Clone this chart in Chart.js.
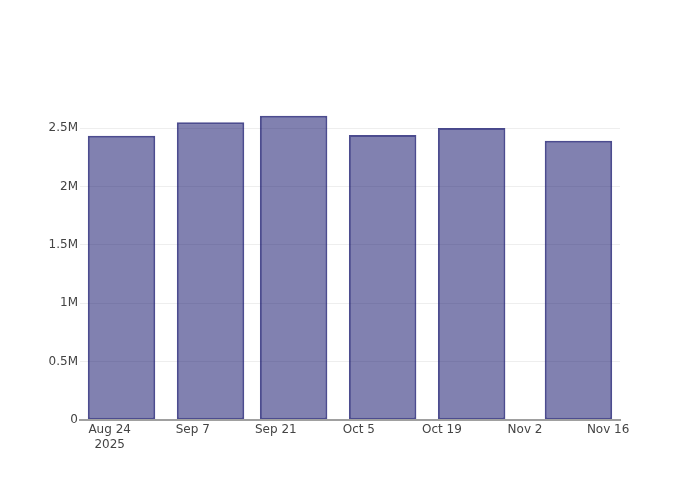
<!DOCTYPE html>
<html>
<head>
<meta charset="utf-8">
<script src="https://cdn.jsdelivr.net/npm/chart.js@4/dist/chart.umd.min.js"></script>
<style>
  html, body { margin: 0; padding: 0; background: #fff; }
  #wrap { width: 700px; height: 500px; }
</style>
</head>
<body>
<div id="wrap"><canvas id="c" width="700" height="500"></canvas></div>
<script>
// ---- data ----
const barDates = ['2025-08-26', '2025-09-10', '2025-09-24', '2025-10-09', '2025-10-24', '2025-11-11'];
const barValues = [2436000, 2551000, 2608000, 2442000, 2502000, 2393000];

const xTickDates = ['2025-08-24', '2025-09-07', '2025-09-21', '2025-10-05', '2025-10-19', '2025-11-02', '2025-11-16'];
const xTickLabels = [['Aug 24', '2025'], 'Sep 7', 'Sep 21', 'Oct 5', 'Oct 19', 'Nov 2', 'Nov 16'];

const yTickValues = [0, 500000, 1000000, 1500000, 2000000, 2500000];
const yTickLabels = ['0', '0.5M', '1M', '1.5M', '2M', '2.5M'];

const xRangeDates = ['2025-08-19', '2025-11-18'];
const yRange = [0, 2742500];

// ---- helpers ----
const epoch = Date.parse('2025-08-24T00:00:00Z');
const dayOf = s => (Date.parse(s + 'T00:00:00Z') - epoch) / 86400000;

const points = barDates.map((d, i) => ({ x: dayOf(d), y: barValues[i] }));
const xTickPos = xTickDates.map(dayOf);

const font = { family: '"DejaVu Sans", "Open Sans", sans-serif', size: 12, lineHeight: 1.25 };

new Chart(document.getElementById('c'), {
  type: 'bar',
  data: {
    datasets: [{
      data: points,
      backgroundColor: 'rgba(25,25,112,0.55)',
      borderColor: 'rgba(25,25,112,0.78)',
      borderWidth: 2,
      borderSkipped: false,
      inflateAmount: 0,
      barPercentage: 0.812,
      categoryPercentage: 1.0
    }]
  },
  options: {
    responsive: false,
    animation: false,
    layout: { padding: { left: 0, right: 80, top: 100, bottom: 0 } },
    plugins: { legend: { display: false }, tooltip: { enabled: false } },
    scales: {
      x: {
        type: 'linear',
        offset: false,
        min: dayOf(xRangeDates[0]),
        max: dayOf(xRangeDates[1]),
        grid: { display: false, offset: false, drawTicks: false },
        border: { display: true, color: '#a0a0a0', width: 2, z: 1 },
        afterBuildTicks: s => { s.ticks = xTickPos.map(v => ({ value: v })); },
        afterFit: s => { s.height = 80; },
        ticks: {
          autoSkip: false,
          maxRotation: 0,
          padding: 2,
          color: '#444',
          font: font,
          callback: (v, i) => xTickLabels[i]
        }
      },
      y: {
        type: 'linear',
        min: yRange[0],
        max: yRange[1],
        grid: { color: '#eeeeee', lineWidth: 1, drawTicks: false },
        border: { display: false },
        afterBuildTicks: s => { s.ticks = yTickValues.map(v => ({ value: v })); },
        afterFit: s => { s.width = 80; },
        ticks: {
          padding: 2,
          color: '#444',
          font: font,
          callback: (v, i) => yTickLabels[i]
        }
      }
    }
  }
});
</script>
</body>
</html>
